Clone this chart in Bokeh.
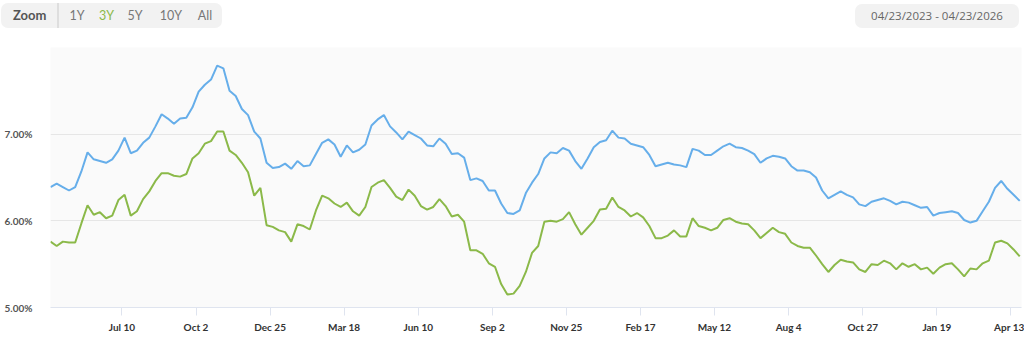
import pandas as pd
from bokeh.plotting import figure
from bokeh.models import FixedTicker, Range1d, Div
from bokeh.layouts import column
from bokeh.embed import file_html
from bokeh.resources import INLINE

# ---------------- data ----------------
first_week = "2023-04-20"   # weekly observations (Thursdays)

rate_30y = [
    # 2023
    6.39, 6.43, 6.39, 6.35, 6.39, 6.57, 6.79, 6.71, 6.69, 6.67, 6.71, 6.81, 6.96,
    6.78, 6.81, 6.90, 6.96, 7.09, 7.23, 7.18, 7.12, 7.18, 7.19, 7.31, 7.49, 7.57,
    7.63, 7.79, 7.76, 7.50, 7.44, 7.29, 7.22, 7.03, 6.95, 6.67, 6.61,
    # 2024
    6.62, 6.66, 6.60, 6.69, 6.63, 6.64, 6.77, 6.90, 6.94, 6.88, 6.74, 6.87, 6.79,
    6.82, 6.88, 7.10, 7.17, 7.22, 7.09, 7.02, 6.94, 7.03, 6.99, 6.95, 6.87, 6.86,
    6.95, 6.89, 6.77, 6.78, 6.73, 6.47, 6.49, 6.46, 6.35, 6.35, 6.20, 6.09, 6.08,
    6.12, 6.32, 6.44, 6.54, 6.72, 6.79, 6.78, 6.84, 6.81, 6.69, 6.60, 6.72, 6.85,
    # 2025
    6.91, 6.93, 7.04, 6.96, 6.95, 6.89, 6.87, 6.85, 6.76, 6.63, 6.65, 6.67, 6.65,
    6.64, 6.62, 6.83, 6.81, 6.76, 6.76, 6.81, 6.86, 6.89, 6.85, 6.84, 6.81, 6.77,
    6.67, 6.72, 6.75, 6.74, 6.72, 6.63, 6.58, 6.58, 6.56, 6.50, 6.35, 6.26, 6.30,
    6.34, 6.30, 6.27, 6.19, 6.17, 6.22, 6.24, 6.26, 6.23, 6.19, 6.22, 6.21, 6.18,
    6.15,
    # 2026
    6.16, 6.06, 6.09, 6.10, 6.11, 6.09, 6.01, 5.98, 6.00, 6.11, 6.22, 6.38, 6.46,
    6.37, 6.30, 6.23,
]

rate_15y = [
    # 2023
    5.76, 5.71, 5.76, 5.75, 5.75, 5.97, 6.18, 6.07, 6.10, 6.03, 6.06, 6.24, 6.30,
    6.06, 6.11, 6.25, 6.34, 6.46, 6.55, 6.55, 6.52, 6.51, 6.54, 6.72, 6.78, 6.89,
    6.92, 7.03, 7.03, 6.81, 6.76, 6.67, 6.56, 6.29, 6.38, 5.95, 5.93,
    # 2024
    5.89, 5.87, 5.76, 5.96, 5.94, 5.90, 6.12, 6.29, 6.26, 6.20, 6.16, 6.21, 6.11,
    6.06, 6.16, 6.39, 6.44, 6.47, 6.38, 6.28, 6.24, 6.36, 6.29, 6.17, 6.13, 6.16,
    6.25, 6.17, 6.05, 6.07, 5.99, 5.66, 5.66, 5.62, 5.51, 5.47, 5.27, 5.15, 5.16,
    5.25, 5.41, 5.63, 5.71, 5.99, 6.00, 5.99, 6.02, 6.10, 5.96, 5.84, 5.92, 6.00,
    # 2025
    6.13, 6.14, 6.27, 6.16, 6.12, 6.05, 6.09, 6.04, 5.94, 5.80, 5.80, 5.83, 5.89,
    5.82, 5.82, 6.03, 5.94, 5.92, 5.89, 5.92, 6.01, 6.03, 5.99, 5.97, 5.96, 5.89,
    5.80, 5.86, 5.92, 5.87, 5.85, 5.75, 5.71, 5.69, 5.69, 5.60, 5.50, 5.41, 5.49,
    5.55, 5.53, 5.52, 5.44, 5.41, 5.50, 5.49, 5.54, 5.51, 5.44, 5.51, 5.47, 5.50,
    5.44,
    # 2026
    5.46, 5.39, 5.46, 5.50, 5.51, 5.44, 5.36, 5.45, 5.44, 5.51, 5.54, 5.75, 5.77,
    5.74, 5.67, 5.59,
]

weeks = pd.date_range(first_week, periods=len(rate_30y), freq="7D")

x_tick_dates = ["2023-07-10", "2023-10-02", "2023-12-25", "2024-03-18", "2024-06-10",
                "2024-09-02", "2024-11-25", "2025-02-17", "2025-05-12", "2025-08-04",
                "2025-10-27", "2026-01-19", "2026-04-13"]
x_tick_labels = ["Jul 10", "Oct 2", "Dec 25", "Mar 18", "Jun 10", "Sep 2", "Nov 25",
                 "Feb 17", "May 12", "Aug 4", "Oct 27", "Jan 19", "Apr 13"]
y_ticks = [5, 6, 7]
y_tick_labels = ["5.00%", "6.00%", "7.00%"]
y_grid_values = [5, 6, 7, 8]

zoom_buttons = ["1Y", "3Y", "5Y", "10Y", "All"]
active_button = "3Y"
date_range_text = "04/23/2023 - 04/23/2026"

# ---------------- styles ----------------
BLUE = "#66aeea"
GREEN = "#8bb949"
FONT = "Lato"

p = figure(width=1024, height=296, x_axis_type="datetime",
           x_range=Range1d(pd.Timestamp("2023-04-20"), pd.Timestamp("2026-04-25")),
           y_range=Range1d(5, 8),
           output_backend="svg", toolbar_location=None,
           min_border_left=50, min_border_right=3, min_border_top=0,
           min_border_bottom=36)

p.background_fill_color = "#fafafa"
p.border_fill_color = "white"
p.outline_line_color = None

p.line(weeks, rate_30y, line_color=BLUE, line_width=2)
p.line(weeks, rate_15y, line_color=GREEN, line_width=2)

# x axis
tick_ms = [pd.Timestamp(d).value // 10**6 for d in x_tick_dates]
p.xaxis.ticker = FixedTicker(ticks=tick_ms)
p.xaxis.major_label_overrides = {t: lab for t, lab in zip(tick_ms, x_tick_labels)}
p.xaxis.axis_line_color = "#dfe4ef"
p.xaxis.major_tick_line_color = "#dfe4ef"
p.xaxis.major_tick_out = 8
p.xaxis.major_tick_in = 0
p.xaxis.minor_tick_line_color = None
p.xaxis.major_label_standoff = 5
p.xaxis.major_label_text_font = FONT
p.xaxis.major_label_text_font_style = "bold"
p.xaxis.major_label_text_font_size = "10px"
p.xaxis.major_label_text_color = "#333333"
p.xgrid.grid_line_color = None

# y axis
p.yaxis.ticker = FixedTicker(ticks=y_ticks)
p.yaxis.major_label_overrides = {t: lab for t, lab in zip(y_ticks, y_tick_labels)}
p.yaxis.axis_line_color = None
p.yaxis.major_tick_line_color = None
p.yaxis.minor_tick_line_color = None
p.yaxis.major_label_standoff = 12
p.yaxis.major_label_text_font = FONT
p.yaxis.major_label_text_font_style = "bold"
p.yaxis.major_label_text_font_size = "10px"
p.yaxis.major_label_text_color = "#555555"
p.yaxis.major_label_text_baseline = "alphabetic"
p.ygrid.ticker = FixedTicker(ticks=y_grid_values)
p.ygrid.grid_line_color = "#e6e6e6"

# ---------------- top controls (HTML bar) ----------------
button_centers = [77, 106.5, 135, 171, 205]
spans = []
for cx, lab in zip(button_centers, zoom_buttons):
    color = GREEN if lab == active_button else "#777777"
    spans.append(
        f'<span style="position:absolute;left:{cx - 20}px;top:3px;width:40px;height:25px;'
        f'line-height:25px;text-align:center;font-family:Lato;font-size:12.5px;'
        f'color:{color};">{lab}</span>')

bar_html = (
    '<div style="position:relative;width:1024px;height:47px;margin:0;padding:0;">'
    '<div style="position:absolute;left:1px;top:3px;width:221px;height:25px;'
    'background:#f2f2f2;border-radius:7px;"></div>'
    '<div style="position:absolute;left:57px;top:3px;width:2px;height:25px;'
    'background:#dedede;"></div>'
    '<span style="position:absolute;left:13px;top:3px;height:25px;line-height:25px;'
    'font-family:Lato;font-weight:bold;font-size:13px;color:#555555;">Zoom</span>'
    + "".join(spans) +
    '<div style="position:absolute;left:855px;top:4px;width:164px;height:24px;'
    'background:#f2f2f2;border-radius:7px;"></div>'
    f'<span style="position:absolute;left:855px;top:4px;width:164px;height:24px;'
    f'line-height:24px;text-align:center;font-family:\'Open Sans\';font-size:11.5px;'
    f'color:#666666;">{date_range_text}</span>'
    '</div>'
)
bar = Div(text=bar_html, width=1024, height=47, margin=(0, 0, 0, 0))

layout = column(bar, p, spacing=0)
open("out.html", "w").write(file_html(layout, INLINE))
